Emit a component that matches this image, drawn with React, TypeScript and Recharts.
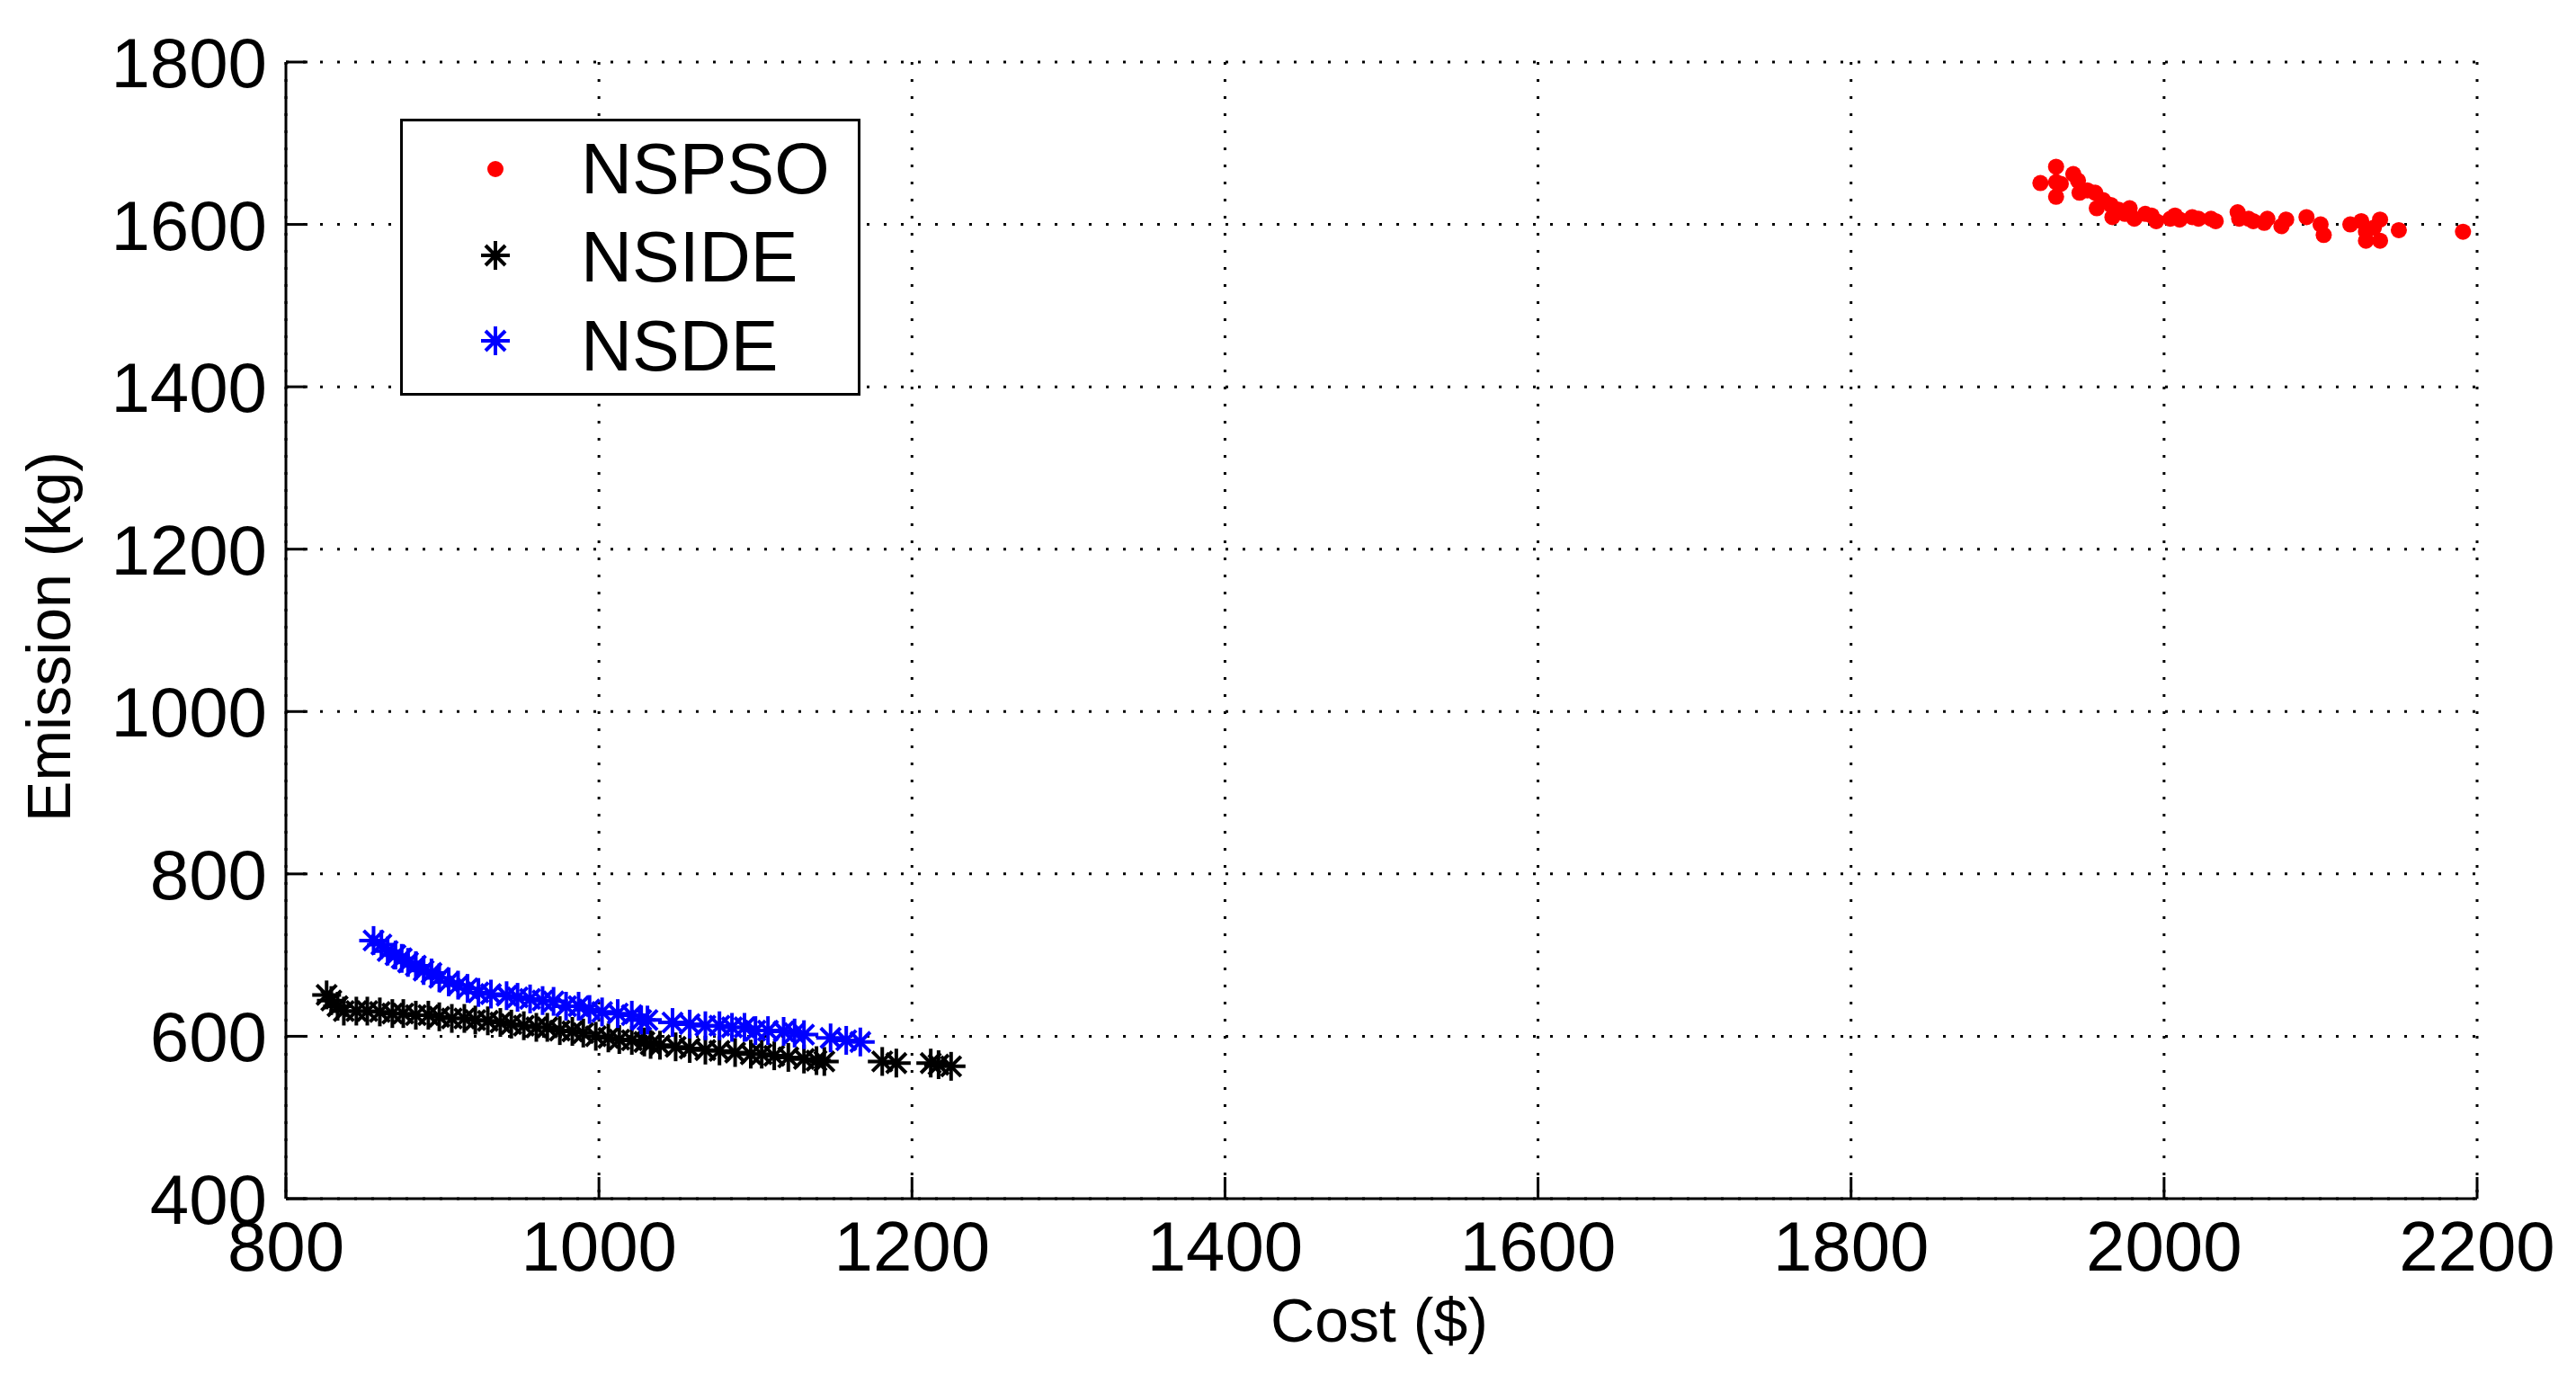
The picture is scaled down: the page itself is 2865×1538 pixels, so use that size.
import React from 'react';
import { ScatterChart, Scatter, XAxis, YAxis, CartesianGrid, Legend } from 'recharts';

const xTicks = [800, 1000, 1200, 1400, 1600, 1800, 2000, 2200];
const yTicks = [400, 600, 800, 1000, 1200, 1400, 1600, 1800];

const seriesNames = ['NSPSO', 'NSIDE', 'NSDE'];
const seriesColors = ['#ff0000', '#000000', '#0000ff'];

const nspsoCost = [1921, 1931, 1931, 1931, 1934, 1942, 1945, 1946, 1951, 1956, 1957, 1961, 1966, 1967, 1971, 1975, 1978, 1981, 1988, 1992, 1995, 2004, 2007, 2010, 2018, 2022, 2030, 2033, 2047, 2048, 2054, 2057, 2064, 2066, 2075, 2078, 2091, 2100, 2102, 2119, 2126, 2129, 2129, 2134, 2138, 2138, 2150, 2191];
const nspsoEmission = [1651, 1671, 1652, 1634, 1650, 1662, 1654, 1639, 1642, 1639, 1620, 1630, 1624, 1609, 1618, 1613, 1620, 1607, 1613, 1611, 1604, 1607, 1611, 1606, 1609, 1607, 1607, 1604, 1615, 1607, 1607, 1604, 1602, 1607, 1598, 1606, 1609, 1600, 1587, 1600, 1604, 1591, 1580, 1596, 1606, 1580, 1593, 1591];

const nsideCost = [826, 829, 833, 837, 845, 852, 860, 868, 875, 883, 891, 898, 906, 914, 921, 929, 937, 944, 952, 960, 967, 975, 983, 990, 998, 1006, 1013, 1021, 1029, 1033, 1039, 1049, 1058, 1068, 1077, 1087, 1097, 1104, 1112, 1121, 1131, 1139, 1144, 1181, 1190, 1212, 1217, 1225];
const nsideEmission = [651, 644, 637, 631, 631, 631, 630, 628, 628, 626, 626, 624, 622, 622, 620, 619, 617, 615, 613, 611, 611, 607, 606, 604, 600, 598, 596, 595, 593, 590, 589, 587, 585, 583, 582, 580, 578, 578, 576, 574, 572, 570, 569, 569, 567, 567, 565, 563];

const nsdeCost = [856, 861, 865, 870, 874, 878, 883, 888, 893, 898, 904, 910, 916, 923, 931, 941, 948, 956, 964, 971, 979, 987, 994, 1002, 1012, 1021, 1027, 1031, 1047, 1058, 1068, 1077, 1085, 1093, 1100, 1108, 1118, 1125, 1131, 1148, 1158, 1167];
const nsdeEmission = [718, 713, 705, 700, 696, 691, 687, 681, 678, 672, 667, 663, 659, 654, 652, 650, 648, 646, 644, 643, 637, 637, 633, 630, 628, 626, 620, 620, 617, 615, 613, 613, 611, 611, 607, 607, 606, 604, 602, 598, 595, 593];

const toPoints = (cost: number[], em: number[]) => cost.map((c, i) => ({ cost: c, emission: em[i] }));
const nspsoData = toPoints(nspsoCost, nspsoEmission);
const nsideData = toPoints(nsideCost, nsideEmission);
const nsdeData = toPoints(nsdeCost, nsdeEmission);

const FONT = '"Liberation Sans", Arial, Helvetica, sans-serif';

const makeAsterisk = (color: string) => (props: any) => {
  const { cx, cy } = props;
  if (cx == null || cy == null) return <g />;
  const r = 16;
  const d = 11;
  return (
    <g stroke={color} strokeWidth={4}>
      <line x1={cx - r} y1={cy} x2={cx + r} y2={cy} />
      <line x1={cx} y1={cy - r} x2={cx} y2={cy + r} />
      <line x1={cx - d} y1={cy - d} x2={cx + d} y2={cy + d} />
      <line x1={cx - d} y1={cy + d} x2={cx + d} y2={cy - d} />
    </g>
  );
};

const Dot = (props: any) => {
  const { cx, cy } = props;
  if (cx == null || cy == null) return <g />;
  return <circle cx={cx} cy={cy} r={9} fill="#ff0000" />;
};

const XTick = (props: any) => {
  const { x, y, payload } = props;
  return (
    <g>
      <line x1={x} y1={y} x2={x} y2={y - 24} stroke="#000" strokeWidth={3} />
      <text x={x} y={y + 80} textAnchor="middle" fontFamily={FONT} fontSize={78} fill="#000">
        {payload.value}
      </text>
    </g>
  );
};

const YTick = (props: any) => {
  const { x, y, payload } = props;
  return (
    <g>
      <line x1={x} y1={y} x2={x + 24} y2={y} stroke="#000" strokeWidth={3} />
      <text x={x - 21} y={y} dy={28} textAnchor="end" fontFamily={FONT} fontSize={78} fill="#000">
        {payload.value}
      </text>
    </g>
  );
};

const LegendBox = () => {
  const rows = [83, 181, 280];
  const markerY = [56, 152, 247];
  return (
    <svg width={512} height={308} style={{ display: 'block' }}>
      <rect x={1.5} y={1.5} width={509} height={305} fill="#fff" stroke="#000" strokeWidth={3} />
      <circle cx={106} cy={markerY[0]} r={9} fill={seriesColors[0]} />
      {makeAsterisk(seriesColors[1])({ cx: 106, cy: markerY[1] })}
      {makeAsterisk(seriesColors[2])({ cx: 106, cy: markerY[2] })}
      {seriesNames.map((n, i) => (
        <text key={n} x={201} y={rows[i]} fontFamily={FONT} fontSize={79} fill="#000">
          {n}
        </text>
      ))}
    </svg>
  );
};

const YLabel = () => (
  <text
    x={78}
    y={708}
    transform="rotate(-90, 78, 708)"
    textAnchor="middle"
    fontFamily={FONT}
    fontSize={68}
    fill="#000"
  >
    Emission (kg)
  </text>
);

const XLabel = () => (
  <text x={1534} y={1492} textAnchor="middle" fontFamily={FONT} fontSize={68} fill="#000">
    Cost ($)
  </text>
);

export default function App() {
  return (
    <div style={{ position: 'absolute', left: 0, top: 0, background: '#fff' }}>
      <ScatterChart
        width={2865}
        height={1538}
        margin={{ top: 69, right: 110, left: 0, bottom: 0 }}
      >
        <CartesianGrid stroke="#000" strokeWidth={3} strokeDasharray="3 16" />
        <XAxis
          type="number"
          dataKey="cost"
          domain={[800, 2200]}
          ticks={xTicks}
          interval={0}
          height={205}
          axisLine={{ stroke: '#000', strokeWidth: 3 }}
          tickLine={false}
          tickSize={0}
          tickMargin={0}
          tick={<XTick />}
          label={<XLabel />}
          allowDataOverflow
        />
        <YAxis
          type="number"
          dataKey="emission"
          domain={[400, 1800]}
          ticks={yTicks}
          interval={0}
          width={318}
          axisLine={{ stroke: '#000', strokeWidth: 3 }}
          tickLine={false}
          tickSize={0}
          tickMargin={0}
          tick={<YTick />}
          label={<YLabel />}
          allowDataOverflow
        />
        <Legend
          layout="horizontal"
          verticalAlign="middle"
          align="center"
          content={() => <LegendBox />}
          wrapperStyle={{ left: 445, top: 132, width: 512, height: 308 }}
        />
        <Scatter name="NSPSO" data={nspsoData} shape={<Dot />} isAnimationActive={false} />
        <Scatter name="NSIDE" data={nsideData} shape={makeAsterisk('#000000')} isAnimationActive={false} />
        <Scatter name="NSDE" data={nsdeData} shape={makeAsterisk('#0000ff')} isAnimationActive={false} />
      </ScatterChart>
    </div>
  );
}
